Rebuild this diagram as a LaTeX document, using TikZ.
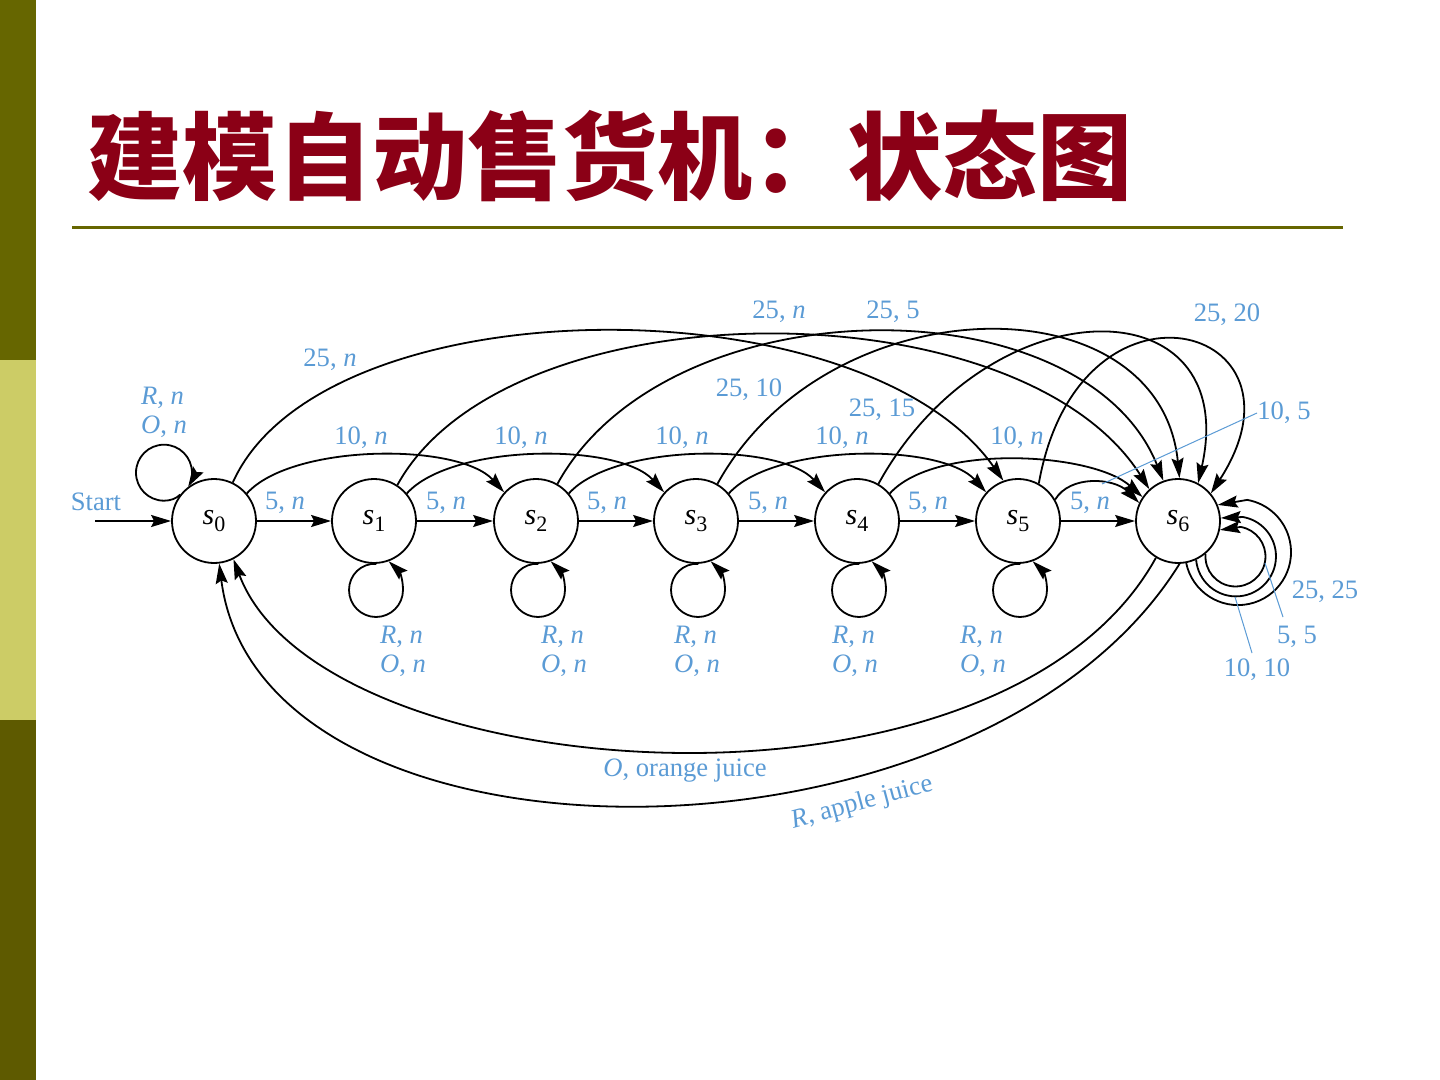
\documentclass[tikz,border=0pt]{standalone}
\usepackage{fontspec}
\setmainfont{Liberation Serif}
\newfontfamily\cjk{Noto Sans CJK SC}
\usetikzlibrary{arrows.meta}
\definecolor{barA}{RGB}{102,102,0}
\definecolor{barB}{RGB}{204,204,102}
\definecolor{barC}{RGB}{94,90,0}
\definecolor{ttl}{RGB}{139,0,22}
\definecolor{lblue}{RGB}{91,155,213}
\newcommand\sname[1]{\textit{s}\raisebox{-0.45ex}{\fontsize{11}{11}\selectfont #1}}
\begin{document}
\begin{tikzpicture}[x=0.5pt,y=-0.5pt,
  stnode/.style={circle, draw, line width=0.9pt, minimum size=42pt, inner sep=0pt, font=\fontsize{15}{15}\selectfont},
  edge/.style={line width=0.9pt, -{Stealth[length=10pt,width=6pt,inset=1.5pt]}},
  lbl/.style={text=lblue, font=\fontsize{13.3}{14.5}\selectfont, inner sep=0pt},
  leader/.style={draw=lblue, line width=0.5pt}]
\useasboundingbox (0,0) rectangle (1440,1080);
\fill[white] (0,0) rectangle (1440,1080);
\fill[barA] (0,0) rectangle (36,360);
\fill[barB] (0,360) rectangle (36,720);
\fill[barC] (0,720) rectangle (36,1080);
\draw[barA, line width=1.5pt] (72,228) -- (1343,228);
\node[anchor=base west, inner sep=0pt, text=ttl, font=\cjk\bfseries\fontsize{47.5}{47.5}\selectfont] (title) at (87,193) {建模自动售货机：状态图};

% states
\foreach \i/\x in {0/214,1/374,2/536,3/696,4/857,5/1018,6/1178}
  \node[stnode] (s\i) at (\x,521) {\sname{\i}};

% start
\coordinate (start) at (95,521);
\draw[edge] (start) -- (s0.west);
\node[lbl] (lstart) at (96,502) {Start};

% 5 cents straight
\foreach \i/\j in {0/1,1/2,2/3,3/4,4/5,5/6}
  \draw[edge] (s\i.east) -- (s\j.west);
\foreach \x [count=\k] in {285,446,607,768,928,1090}
  \node[lbl] (lfive\k) at (\x,503) {5, \textit{n}};

% 10 cents arcs
\foreach \i/\j in {0/2,1/3,2/4,3/5}
  \draw[edge] (s\i.40) .. controls +(45,-50) and +(-45,-50) .. (s\j.138);
\draw[edge] (s4.40) .. controls +(45,-50) and +(-50,-45) .. (s6.146);
\foreach \x [count=\k] in {361,521,682,842,1017}
  \node[lbl] (lten\k) at (\x,438) {10, \textit{n}};

% small arc s5 -> s6
\draw[edge] (s5.30) .. controls +(15,-25) and +(-25,-25) .. (s6.155);

% 25 cents arcs
\draw[edge] (s0.64) .. controls +(90,-200) and +(-140,-200) .. (s5.110);
\draw[edge] (s1.57) .. controls +(110,-200) and +(-130,-205) .. (s6.132);
\draw[edge] (s2.60) .. controls +(110,-200) and +(-80,-200) .. (s6.110);
\draw[edge] (s3.60) .. controls +(110,-200) and +(-20,-200) .. (s6.88);
\draw[edge] (s4.60) .. controls +(110,-200) and +(45,-200) .. (s6.62);
\draw[edge] (s5.61) .. controls +(40,-225) and +(110,-170) .. (s6.40);

\node[lbl] (l25a) at (330,360) {25, \textit{n}};
\node[lbl] (l25b) at (779,312) {25, \textit{n}};
\node[lbl] (l25c) at (893,312) {25, 5};
\node[lbl] (l25d) at (749,390) {25, 10};
\node[lbl] (l25e) at (882,410) {25, 15};
\node[lbl] (l25f) at (1227,315) {25, 20};
\node[lbl, anchor=west] (l105) at (1257,413) {10, 5};
\coordinate (c105) at (1102,484);
\draw[leader] (c105) -- (l105.west);

% self loop s0 (round, clockwise on screen, arrow down into s0)
\draw[edge] (s0.142) .. controls (176.0,498.8) and (170.1,500.7) .. (164,500.7)
  .. controls (148.5,500.7) and (136,488.2) .. (136,472.7)
  .. controls (136,457.2) and (148.5,444.7) .. (164,444.7)
  .. controls (179.5,444.7) and (192,457.2) .. (192,472.7)
  .. controls (192,477.6) and (190.7,482.4) .. (s0.127);
\node[lbl, align=left] (lloop0) at (164,412) {\textit{R}, \textit{n}\\\textit{O}, \textit{n}};

% self loops below s1..s5
\foreach \i/\x in {1/374,2/536,3/696,4/857,5/1018}
  \draw[edge] (s\i.273) .. controls ({\x-12.9},563) and ({\x-25},{575.1}) .. ({\x-25},590)
    .. controls ({\x-25},604.9) and ({\x-12.9},617) .. ({\x+2},617)
    .. controls ({\x+16.9},617) and ({\x+29},604.9) .. ({\x+29},590)
    .. controls ({\x+29},578) and ({\x+25},571) .. (s\i.290);
\foreach \x [count=\k] in {403,564,697,855,983}
  \node[lbl, align=left] (lloop\k) at (\x,651) {\textit{R}, \textit{n}\\\textit{O}, \textit{n}};

% s6 loops
\draw[edge] (s6.310) arc[start angle=185, end angle=-80, radius=30] -- (s6.348);
\draw[edge] (s6.295) arc[start angle=175, end angle=-80, radius=40] -- (s6.4);
\draw[edge] (s6.281) arc[start angle=168, end angle=-80, radius=53] -- (s6.22);
\node[lbl] (l2525) at (1325,592) {25, 25};
\node[lbl] (l55) at (1297,637) {5, 5};
\node[lbl] (l1010) at (1257,670) {10, 10};
\coordinate (c55a) at (1265,563);
\coordinate (c55b) at (1283,617);
\coordinate (c1010a) at (1235,597);
\coordinate (c1010b) at (1252,653);
\draw[leader] (c55a) -- (c55b);
\draw[leader] (c1010a) -- (c1010b);

% return arcs
\draw[edge] (s6.239) .. controls (1000,840) and (320,790) .. (s0.297);
\draw[edge] (s6.272) .. controls (980,885) and (260,885) .. (s0.277);
\node[lbl] (lorange) at (685,771) {\textit{O}, orange juice};
\node[lbl, rotate=15] (lapple) at (862,803) {\textit{R}, apple juice};
\end{tikzpicture}
\end{document}
